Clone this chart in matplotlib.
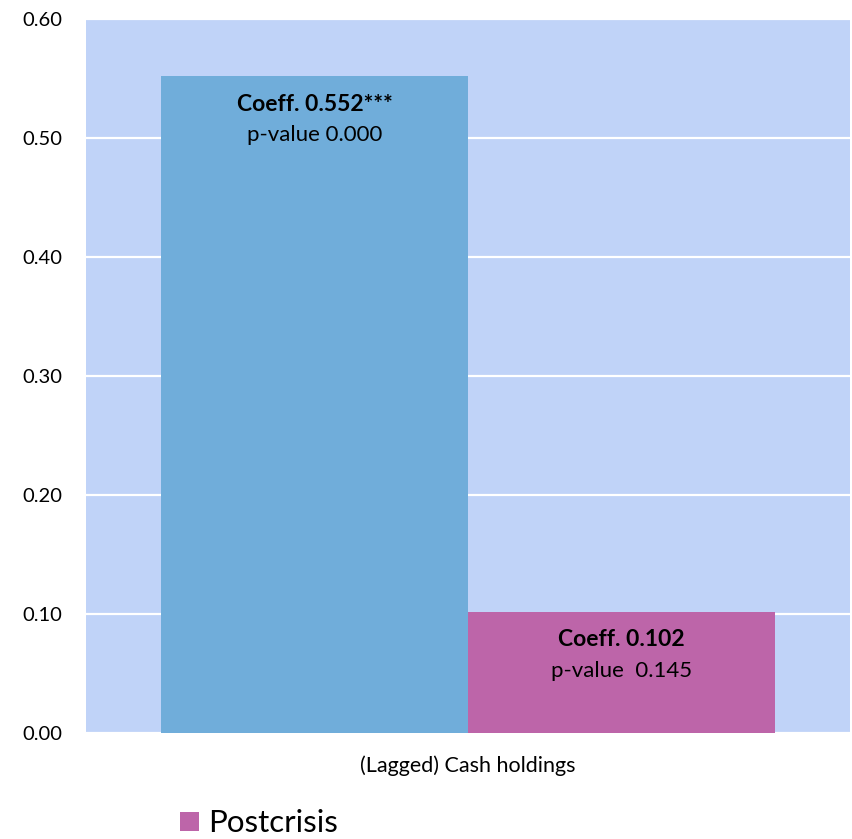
import matplotlib.pyplot as plt

# Regression coefficients for lagged cash holdings, pre- vs post-crisis
category = "(Lagged) Cash holdings"
series = ["Precrisis", "Postcrisis"]
coefficients = [0.552, 0.102]
coef_labels = ["Coeff. 0.552***", "Coeff. 0.102"]
pvalue_labels = ["p-value 0.000", "p-value  0.145"]
yticks = [0.0, 0.1, 0.2, 0.3, 0.4, 0.5, 0.6]

colors = ["#70ADDA", "#BD65A9"]
bg = "#C0D3F8"

plt.rcParams["font.family"] = ["Lato", "DejaVu Sans"]

fig = plt.figure(figsize=(8.53, 8.39), dpi=100)
ax = fig.add_axes([86 / 853, 106 / 839, 764 / 853, 714 / 839])
ax.set_facecolor(bg)

positions = [-0.5, 0.5]
bars = ax.bar(positions, coefficients, width=1.0, color=colors, zorder=2)

for x, v, c, p in zip(positions, coefficients, coef_labels, pvalue_labels):
    ax.annotate(c, xy=(x, v), xytext=(0, -28), textcoords="offset pixels",
                ha="center", va="center", fontsize=16.5, fontweight="bold",
                color="black", zorder=3)
    ax.annotate(p, xy=(x, v), xytext=(0, -59), textcoords="offset pixels",
                ha="center", va="center", fontsize=16, color="black", zorder=3)

ax.set_ylim(0, 0.6)
ax.set_xlim(-1.244, 1.244)
ax.set_yticks(yticks)
ax.set_yticklabels([f"{t:.2f}" for t in yticks], fontsize=14.5)
ax.set_xticks([0])
ax.set_xticklabels([category], fontsize=15.5)
ax.tick_params(axis="both", length=0)
ax.tick_params(axis="y", pad=17)
ax.tick_params(axis="x", pad=16)
ax.yaxis.grid(True, color="white", linewidth=1.6)
ax.set_axisbelow(True)
for s in ax.spines.values():
    s.set_visible(False)

fig.legend([bars[1]], [series[1]], loc="lower left",
           bbox_to_anchor=(168 / 853, -11 / 839), frameon=False,
           fontsize=22.5, handlelength=0.58, handleheight=0.58,
           handletextpad=0.3, borderaxespad=0)

fig.savefig("out.png", dpi=100)
